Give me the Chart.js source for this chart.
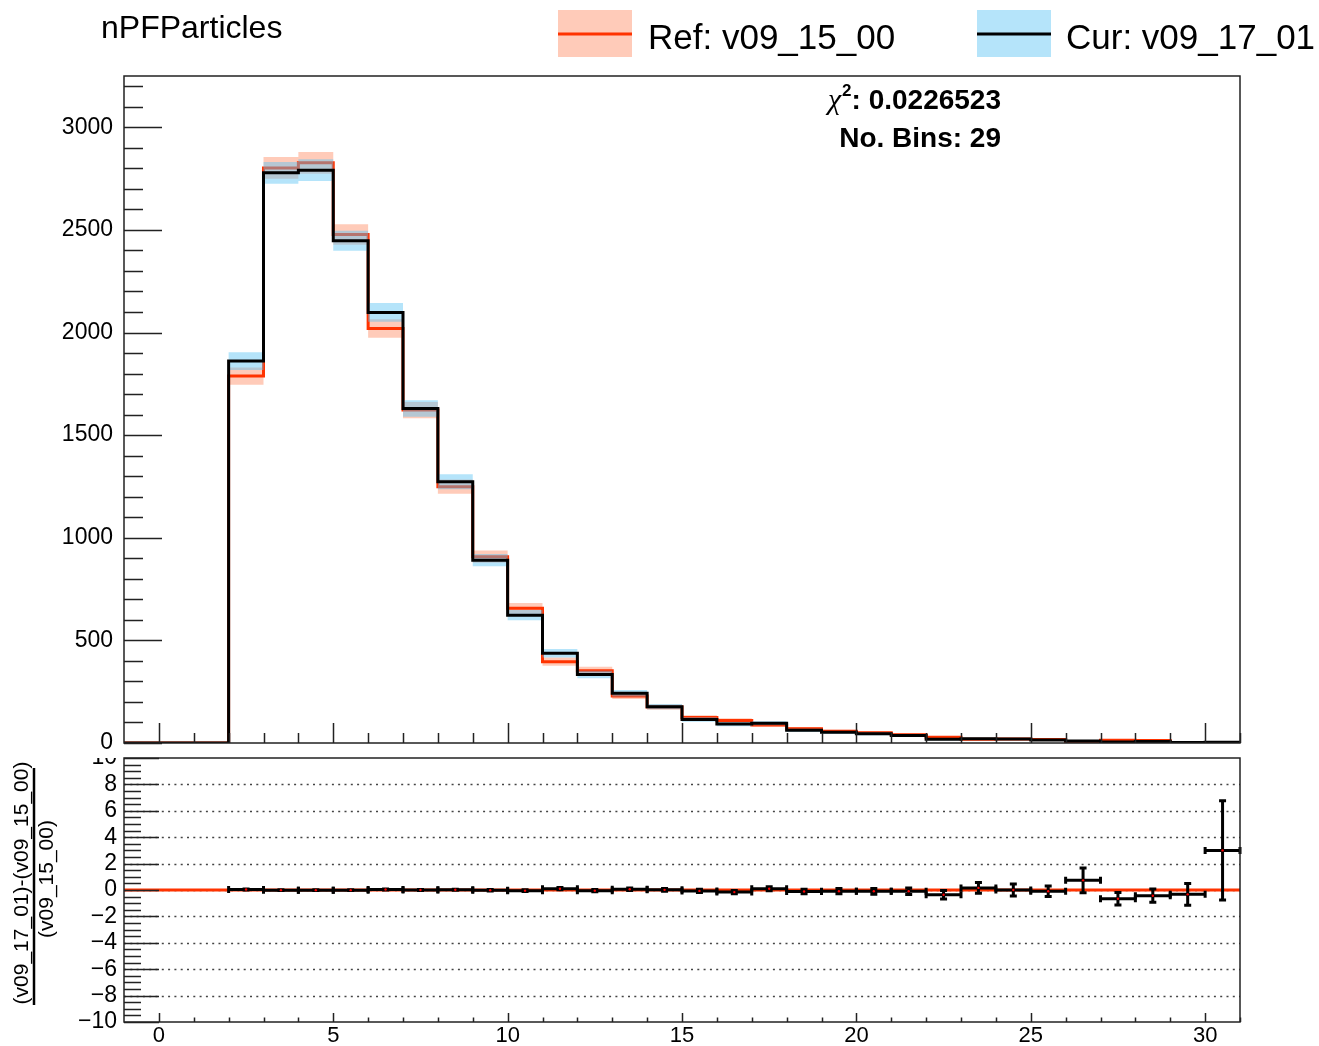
<!DOCTYPE html>
<html>
<head>
<meta charset="utf-8">
<script src="https://cdn.jsdelivr.net/npm/chart.js@4.4.0/dist/chart.umd.min.js"></script>
<style>
html,body{margin:0;padding:0;background:#fff;}
#wrap{position:relative;width:1319px;height:1046px;overflow:hidden;}
canvas{position:absolute;left:0;}
#top{top:0;}
#bot{top:751px;}
</style>
</head>
<body>
<div id="wrap">
  <canvas id="top" width="1319" height="751"></canvas>
  <canvas id="bot" width="1319" height="295"></canvas>
</div>
<script>
// bins: low edges, width 1
const binLow = [-1,0,1,2,3,4,5,6,7,8,9,10,11,12,13,14,15,16,17,18,19,20,21,22,23,24,25,26,27,28,29,30];
const refCounts = [0,0,0,1788,2802,2827,2478,2020,1622,1249,908,656,396,352,229,175,124,110,88,70,57,50,40,28,18,19,17,6,14,12,3,1];
const refErr    = [0,0,0,42,53,53,50,45,40,35,30,26,20,19,15,13,11,10,9,8,8,7,6,5,4,4,4,2,4,3,2,1];
const curCounts = [0,0,0,1861,2778,2791,2447,2098,1630,1273,891,623,437,334,242,177,115,92,96,62,52,45,36,18,21,19,15,10,5,7,2,4];
const curErr    = [0,0,0,43,53,53,49,46,40,36,30,25,21,18,16,13,11,10,10,8,7,7,6,4,5,4,4,3,2,3,1,2];

// ratio panel (cur-ref)/ref, at bin centres
const ratioX   = [2.5,3.5,4.5,5.5,6.5,7.5,8.5,9.5,10.5,11.5,12.5,13.5,14.5,15.5,16.5,17.5,18.5,19.5,20.5,21.5,22.5,23.5,24.5,25.5,26.5,27.5,28.5,29.5,30.5];
const ratioVal = [0.04,-0.01,-0.01,-0.01,0.04,0.0,0.02,-0.02,-0.05,0.10,-0.05,0.06,0.01,-0.07,-0.16,0.09,-0.11,-0.09,-0.1,-0.1,-0.36,0.16,0.0,-0.1,0.73,-0.66,-0.43,-0.33,3.0];
const ratioErr = [0.035,0.03,0.03,0.03,0.035,0.04,0.045,0.05,0.06,0.08,0.08,0.1,0.11,0.12,0.13,0.15,0.17,0.2,0.22,0.25,0.33,0.4,0.45,0.4,0.94,0.47,0.5,0.83,3.76];

const xTicks = [0,5,10,15,20,25,30];
const yTicks = [0,500,1000,1500,2000,2500,3000];
const ratioTicks = [-10,-8,-6,-4,-2,0,2,4,6,8,10];

const histTitle = 'nPFParticles';
const refLabel = 'Ref: v09_15_00';
const curLabel = 'Cur: v09_17_01';
const chi2Value = ': 0.0226523';
const nBinsText = 'No. Bins: 29';
const ratioNum = '(v09_17_01)-(v09_15_00)';
const ratioDen = '(v09_15_00)';

const RED = '#ff3300';
const RED_BAND = 'rgba(255,140,100,0.45)';
const BLUE_BAND = 'rgba(90,195,245,0.45)';
const FONT = '"Liberation Sans", Arial, Helvetica, sans-serif';

function steps(vals, errs, sign){
  const pts = binLow.map((x,i)=>({x, y: vals[i] + (errs ? sign*errs[i] : 0)}));
  pts.push({x: binLow[binLow.length-1] + 1, y: pts[pts.length-1].y});
  return pts;
}

function txt(ctx, s, x, y, font, align, base){
  ctx.save();
  ctx.font = font;
  ctx.textBaseline = base || 'alphabetic';
  ctx.textAlign = align || 'left';
  ctx.fillText(s, x, y);
  const w = ctx.measureText(s).width;
  ctx.restore();
  return w;
}

function isMajor(v, step){ const q=v/step; return Math.abs(q-Math.round(q))<1e-6; }

function ticksX(ctx, sc, area, from, to, step, majStep, majLen, minLen){
  ctx.beginPath();
  for (let v=from; v<=to+1e-9; v+=step){
    const px = Math.round(sc.getPixelForValue(v))+0.5;
    const len = isMajor(v, majStep) ? majLen : minLen;
    ctx.moveTo(px, area.bottom); ctx.lineTo(px, area.bottom-len);
  }
  ctx.stroke();
}
function ticksY(ctx, sc, area, from, to, step, majStep, majLen, minLen){
  ctx.beginPath();
  for (let v=from; v<=to+1e-9; v+=step){
    const py = Math.round(sc.getPixelForValue(v))+0.5;
    const len = isMajor(v, majStep) ? majLen : minLen;
    ctx.moveTo(area.left, py); ctx.lineTo(area.left+len, py);
  }
  ctx.stroke();
}

const upperDeco = {
  id:'upperDeco',
  afterDraw(chart){
    const ctx = chart.ctx, a = chart.chartArea, xs = chart.scales.x, ys = chart.scales.y;
    ctx.save();
    ctx.strokeStyle = '#222'; ctx.lineWidth = 1.5;
    ticksX(ctx, xs, a, 0, 31, 1, 5, 20, 10);
    ticksY(ctx, ys, a, 0, 3200, 100, 500, 38, 19);
    ctx.strokeRect(a.left, a.top, a.right-a.left, a.bottom-a.top);
    ctx.fillStyle = '#000';
    yTicks.forEach(v => txt(ctx, String(v), 113, ys.getPixelForValue(v), '23px '+FONT, 'right', 'middle'));

    // title
    txt(ctx, histTitle, 101, 38, '32px '+FONT, 'left');

    // legend
    ctx.fillStyle = RED_BAND; ctx.fillRect(558, 10, 74, 47);
    ctx.strokeStyle = RED; ctx.lineWidth = 3;
    ctx.beginPath(); ctx.moveTo(558, 34); ctx.lineTo(632, 34); ctx.stroke();
    ctx.fillStyle = BLUE_BAND; ctx.fillRect(977, 10, 74, 47);
    ctx.strokeStyle = '#000';
    ctx.beginPath(); ctx.moveTo(977, 34); ctx.lineTo(1051, 34); ctx.stroke();
    ctx.fillStyle = '#000';
    txt(ctx, refLabel, 648, 49, '35px '+FONT, 'left');
    txt(ctx, curLabel, 1066, 49, '35px '+FONT, 'left');

    // chi2 box text, right aligned
    const bold = 'bold 28px '+FONT;
    const w1 = txt(ctx, chi2Value, 1001, 109, bold, 'right');
    const w2 = txt(ctx, '2', 1001-w1, 96, 'bold 17px '+FONT, 'right');
    txt(ctx, 'χ', 1001-w1-w2-1, 109, 'italic 30px "Liberation Serif", serif', 'right');
    txt(ctx, nBinsText, 1001, 147, bold, 'right');
    ctx.restore();
  }
};

const lowerDeco = {
  id:'lowerDeco',
  beforeDatasetsDraw(chart){
    const ctx = chart.ctx, a = chart.chartArea, ys = chart.scales.y;
    ctx.save();
    ctx.strokeStyle = '#444'; ctx.lineWidth = 1.5; ctx.setLineDash([2, 4.3]);
    ratioTicks.filter(v => Math.abs(v) < 10).forEach(v => {
      const py = Math.round(ys.getPixelForValue(v))+0.5;
      ctx.beginPath(); ctx.moveTo(a.left, py); ctx.lineTo(a.right, py); ctx.stroke();
    });
    ctx.restore();
  },
  beforeDatasetDraw(chart, args){
    if (args.index !== 0) return;
    const ctx = chart.ctx, xs = chart.scales.x, ys = chart.scales.y, cap = 3.5;
    ctx.save();
    ctx.strokeStyle = '#000'; ctx.lineWidth = 3; ctx.lineCap = 'butt';
    ratioX.forEach((c,i) => {
      const x0 = xs.getPixelForValue(c-0.5), x1 = xs.getPixelForValue(c+0.5), xc = xs.getPixelForValue(c);
      const yc = ys.getPixelForValue(ratioVal[i]);
      const yt = ys.getPixelForValue(ratioVal[i]+ratioErr[i]), yb = ys.getPixelForValue(ratioVal[i]-ratioErr[i]);
      ctx.beginPath();
      ctx.moveTo(x0, yc); ctx.lineTo(x1, yc);
      ctx.moveTo(x0, yc-cap); ctx.lineTo(x0, yc+cap);
      ctx.moveTo(x1, yc-cap); ctx.lineTo(x1, yc+cap);
      ctx.moveTo(xc, yt); ctx.lineTo(xc, yb);
      ctx.moveTo(xc-cap, yt); ctx.lineTo(xc+cap, yt);
      ctx.moveTo(xc-cap, yb); ctx.lineTo(xc+cap, yb);
      ctx.stroke();
    });
    ctx.restore();
  },
  afterDraw(chart){
    const ctx = chart.ctx, a = chart.chartArea, xs = chart.scales.x, ys = chart.scales.y;
    ctx.save();
    ctx.strokeStyle = '#222'; ctx.lineWidth = 1.5;
    ticksX(ctx, xs, a, 0, 31, 1, 5, 9, 4.5);
    ticksY(ctx, ys, a, -10, 10, 0.5, 2, 35, 17);
    ctx.strokeRect(a.left, a.top, a.right-a.left, a.bottom-a.top);
    ctx.fillStyle = '#000';
    xTicks.forEach(v => txt(ctx, String(v), xs.getPixelForValue(v), a.bottom+3, '22px '+FONT, 'center', 'top'));
    ctx.save();
    ctx.beginPath(); ctx.rect(0, a.top, chart.width, chart.height); ctx.clip();
    ratioTicks.forEach(v => txt(ctx, v<0 ? '\u2212'+Math.abs(v) : String(v), 117, ys.getPixelForValue(v), '23px '+FONT, 'right', 'middle'));
    ctx.restore();

    // y title as a fraction, rotated
    ctx.font = '21px '+FONT; ctx.textAlign = 'center'; ctx.textBaseline = 'middle';
    ctx.save(); ctx.translate(22, 883-751); ctx.rotate(-Math.PI/2); ctx.fillText(ratioNum, 0, 0); ctx.restore();
    ctx.save(); ctx.translate(47, 879-751); ctx.rotate(-Math.PI/2); ctx.fillText(ratioDen, 0, 0); ctx.restore();
    ctx.strokeStyle = '#000'; ctx.lineWidth = 2.5;
    ctx.beginPath(); ctx.moveTo(34, 768-751); ctx.lineTo(34, 1005-751); ctx.stroke();
    ctx.restore();
  }
};

const base = {
  responsive:false, animation:false, devicePixelRatio:1,
  plugins:{legend:{display:false}, tooltip:{enabled:false}},
};
// stepped 'before': flat at the bin value, then jump at the next edge
const band = (vals, errs, sign, color, fill) => ({
  data: steps(vals, errs, sign), stepped:'before', pointRadius:0, borderWidth:0,
  borderColor:'transparent', backgroundColor: color, fill: fill
});

new Chart(document.getElementById('top'), {
  type:'line',
  data:{datasets:[
    {data: steps(curCounts), stepped:'before', borderColor:'#000', borderWidth:3, pointRadius:0, fill:false},
    band(curCounts, curErr, 1, BLUE_BAND, '+1'),
    band(curCounts, curErr, -1, 'transparent', false),
    {data: steps(refCounts), stepped:'before', borderColor:RED, borderWidth:3, pointRadius:0, fill:false},
    band(refCounts, refErr, 1, RED_BAND, '+1'),
    band(refCounts, refErr, -1, 'transparent', false)
  ]},
  options:Object.assign({}, base, {
    layout:{padding:{left:124, top:76, right:79, bottom:8}},
    scales:{
      x:{type:'linear', min:-1, max:31, display:false},
      y:{type:'linear', min:0, max:3250, display:false}
    }
  }),
  plugins:[upperDeco]
});

new Chart(document.getElementById('bot'), {
  type:'scatter',
  data:{datasets:[
    {data: ratioX.map((x,i)=>({x, y: ratioVal[i]})), pointRadius:1.2, pointBackgroundColor:'#ff0000', pointBorderWidth:0, showLine:false},
    {type:'line', data:[{x:-1,y:0},{x:31,y:0}], borderColor:RED, borderWidth:3, pointRadius:0, fill:false}
  ]},
  options:Object.assign({}, base, {
    layout:{padding:{left:124, top:7, right:79, bottom:24}},
    scales:{
      x:{type:'linear', min:-1, max:31, display:false},
      y:{type:'linear', min:-10, max:10, display:false}
    }
  }),
  plugins:[lowerDeco]
});
</script>
</body>
</html>
